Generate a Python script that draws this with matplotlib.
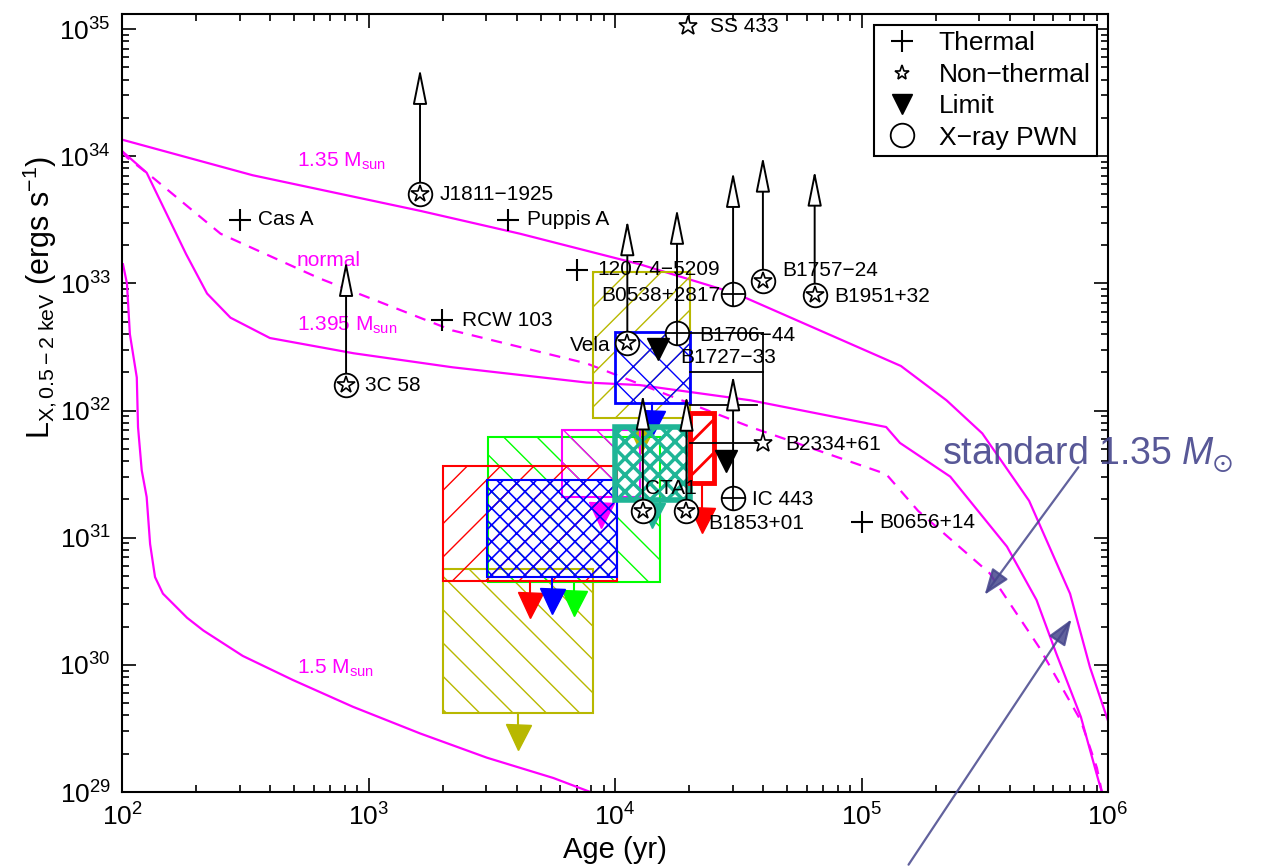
import numpy as np
import matplotlib
matplotlib.use('Agg')
import matplotlib.pyplot as plt
from matplotlib.lines import Line2D
from matplotlib.patches import FancyArrowPatch

plt.rcParams['font.family'] = ['Liberation Sans', 'DejaVu Sans']
plt.rcParams['mathtext.fontset'] = 'custom'
plt.rcParams['mathtext.rm'] = 'Liberation Sans'
plt.rcParams['mathtext.it'] = 'Liberation Sans:italic'
plt.rcParams['mathtext.sf'] = 'Liberation Sans'
plt.rcParams['mathtext.default'] = 'regular'

MAG = '#ff00ff'

# ---------------- cooling curves (log10 age [yr], log10 L [erg/s]) ----------------
c135_logt = [2.0, 2.53, 3.21, 3.615, 4.10, 4.49, 5.16, 5.345, 5.49, 5.68, 5.846, 5.927, 6.0]
c135_logL = [34.13, 33.85, 33.57, 33.39, 33.15, 32.92, 32.35, 32.08, 31.82, 31.29, 30.56, 29.98, 29.56]

c1395_logt = [2.0, 2.10, 2.18, 2.26, 2.345, 2.44, 2.60, 2.94, 3.34, 3.885, 4.10, 4.55, 5.10,
              5.156, 5.36, 5.59, 5.71, 5.79, 5.89, 5.96, 5.975]
c1395_logL = [34.04, 33.87, 33.55, 33.23, 32.92, 32.73, 32.57, 32.45, 32.34, 32.22, 32.20, 32.08, 31.87,
              31.745, 31.48, 30.93, 30.51, 30.09, 29.59, 29.10, 29.0]

normal_logt = [2.0, 2.02, 2.126, 2.40, 2.80, 3.34, 3.885, 4.55, 5.10, 5.23, 5.52, 5.72, 5.89, 5.955, 5.975]
normal_logL = [34.04, 33.99, 33.83, 33.39, 33.04, 32.63, 32.37, 31.87, 31.50, 31.21, 30.72, 30.14, 29.56, 29.19, 29.0]

c15_logt = [2.004, 2.02, 2.032, 2.06, 2.065, 2.08, 2.10, 2.114, 2.134, 2.166, 2.264, 2.33, 2.49,
            2.694, 2.937, 3.21, 3.48, 3.75, 3.90]
c15_logL = [33.15, 33.0, 32.60, 32.26, 31.87, 31.53, 31.32, 30.95, 30.69, 30.56, 30.37, 30.27, 30.07,
            29.88, 29.67, 29.46, 29.27, 29.11, 29.0]

curve_labels = [r'1.35 M$_{sun}$', 'normal', r'1.395 M$_{sun}$', r'1.5 M$_{sun}$']
curve_label_logt = [2.71, 2.71, 2.71, 2.71]
curve_label_logL = [33.96, 33.18, 32.67, 29.97]

# ---------------- sources ----------------
thermal_names = ['Cas A', 'Puppis A', 'RCW 103', '1207.4\u22125209', 'B0656+14']
thermal_logt = [2.48, 3.566, 3.30, 3.846, 5.0]
thermal_logL = [33.50, 33.50, 32.71, 33.105, 31.12]

tpwn_names = ['B0538+2817', 'B1706\u221244', 'IC 443']
tpwn_logt = [4.479, 4.2515, 4.479]
tpwn_logL = [32.92, 32.61, 31.31]

ntpwn_names = ['J1811\u22121925', '3C 58', 'Vela', 'B1757\u221224', 'B1951+32', 'CTA1', 'B1853+01']
ntpwn_logt = [3.209, 2.909, 4.05, 4.60, 4.81, 4.113, 4.29]
ntpwn_logL = [33.70, 32.20, 32.53, 33.02, 32.91, 31.21, 31.21]

nt_names = ['SS 433', 'B2334+61']
nt_logt = [4.296, 4.60]
nt_logL = [35.02, 31.745]

black_limit_logt = [4.174, 4.450]
black_limit_logL = [32.48, 31.60]

# lower limits (upward arrows): start point and length in dex
arrow_logt = [2.909, 3.209, 4.05, 4.2515, 4.479, 4.60, 4.81, 4.479, 4.113, 4.29]
arrow_logL = [32.20, 33.70, 32.53, 32.61, 32.92, 33.02, 32.91, 31.31, 31.21, 31.21]
arrow_len = [0.98, 0.99, 0.97, 0.98, 0.96, 0.98, 0.98, 0.97, 0.92, 0.91]

# age error bars (log t range, log L)
ebar_logt0 = [4.2515, 4.304, 4.304, 4.304]
ebar_logt1 = [4.600, 4.600, 4.576, 4.600]
ebar_logL = [32.61, 32.30, 32.04, 31.745]
vbar_logt = [4.600]
vbar_logL0 = [31.745]
vbar_logL1 = [32.61]

# ---------------- hatched boxes (log t range, log L range) ----------------
box_colors = ['#b8b800', '#0000ff', '#1fb596', '#ff00ff', '#00ff00', '#ff0000', '#0000ff', '#b8b800', '#ff0000']
box_hatch  = ['/', 'x', 'xx', '\\', '\\', '/', 'xx', '\\', '/']
box_t0 = [3.911, 4.0, 4.0, 3.785, 3.485, 3.302, 3.481, 3.302, 4.304]
box_t1 = [4.304, 4.304, 4.304, 4.10, 4.183, 4.008, 4.008, 3.911, 4.40]
box_L0 = [31.94, 32.06, 31.30, 31.32, 30.65, 30.66, 30.69, 29.62, 31.43]
box_L1 = [33.09, 32.62, 31.87, 31.85, 31.79, 31.56, 31.45, 30.755, 31.98]
box_tri_logL = [31.77, 31.90, 31.18, 31.18, 30.49, 30.47, 30.50, 29.43, 31.14]
box_lw = [1.5, 2.0, 4.0, 1.5, 1.5, 1.5, 1.5, 1.5, 3.5]
box_hlw = [1.0, 1.0, 2.5, 1.0, 1.0, 1.0, 1.2, 1.0, 2.0]
box_z = [3, 4, 5, 3.2, 3.1, 3.3, 3.4, 3.0, 5.5]

W, H = 1261, 867
fig = plt.figure(figsize=(W / 100, H / 100), dpi=100)
ax = fig.add_axes([122 / W, 1 - 792 / H, (1108 - 122) / W, (792 - 14) / H])
ax.set_xscale('log')
ax.set_yscale('log')
ax.set_xlim(1e2, 1e6)
ax.set_ylim(1e29, 10 ** 35.118)

p = lambda v: 10 ** np.asarray(v, dtype=float)

# curves
ax.plot(p(c135_logt), p(c135_logL), color=MAG, lw=1.6, zorder=2)
ax.plot(p(c1395_logt), p(c1395_logL), color=MAG, lw=1.6, zorder=2)
ax.plot(p(normal_logt), p(normal_logL), color=MAG, lw=1.6, ls=(0, (5, 4)), zorder=2)
ax.plot(p(c15_logt), p(c15_logL), color=MAG, lw=1.6, zorder=2)
for s, t, L in zip(curve_labels, curve_label_logt, curve_label_logL):
    ax.text(10 ** t, 10 ** L, s, color=MAG, fontsize=15, ha='left', va='center', zorder=2)

# boxes
for c, h, t0, t1, L0, L1, ty, lw, hlw, z in zip(box_colors, box_hatch, box_t0, box_t1, box_L0, box_L1,
                                               box_tri_logL, box_lw, box_hlw, box_z):
    with plt.rc_context({'hatch.linewidth': hlw}):
        ax.fill([10 ** t0, 10 ** t1, 10 ** t1, 10 ** t0], [10 ** L0, 10 ** L0, 10 ** L1, 10 ** L1],
                facecolor='none', edgecolor=c, hatch=h, lw=lw, zorder=z)
    tc = 10 ** ((t0 + t1) / 2)
    ax.plot([tc, tc], [10 ** L0, 10 ** ty], color=c, lw=1.5, zorder=z)
    ax.plot([tc], [10 ** ty], marker='v', ms=18, color=c, mec=c, ls='none', zorder=z + 0.05)

# error bars
for t0, t1, L in zip(ebar_logt0, ebar_logt1, ebar_logL):
    ax.plot([10 ** t0, 10 ** t1], [10 ** L, 10 ** L], color='k', lw=1.3, zorder=6)
for t, L0, L1 in zip(vbar_logt, vbar_logL0, vbar_logL1):
    ax.plot([10 ** t, 10 ** t], [10 ** L0, 10 ** L1], color='k', lw=1.3, zorder=6)

# arrows
for t, L, dl in zip(arrow_logt, arrow_logL, arrow_len):
    ax.annotate('', xy=(10 ** t, 10 ** (L + dl)), xytext=(10 ** t, 10 ** L),
                arrowprops=dict(arrowstyle='-|>,head_length=1.1,head_width=0.22', ec='k', fc='white',
                                lw=1.4, shrinkA=0, shrinkB=0, mutation_scale=20), zorder=7)

# markers
ax.plot(p(thermal_logt), p(thermal_logL), 'k+', ms=16, mew=1.5, ls='none', zorder=8)
ax.plot(p(tpwn_logt), p(tpwn_logL), marker='o', ms=17, mfc='white', mec='k', mew=1.3, ls='none', zorder=8)
ax.plot(p(tpwn_logt), p(tpwn_logL), 'k+', ms=17, mew=1.3, ls='none', zorder=8.1)
ax.plot(p(ntpwn_logt), p(ntpwn_logL), marker='o', ms=17, mfc='white', mec='k', mew=1.3, ls='none', zorder=8)
ax.plot(p(ntpwn_logt), p(ntpwn_logL), marker='*', ms=13, mfc='white', mec='k', mew=1.2, ls='none', zorder=8.1)
ax.plot(p(nt_logt), p(nt_logL), marker='*', ms=14, mfc='white', mec='k', mew=1.2, ls='none', zorder=8)
ax.plot(p(black_limit_logt), p(black_limit_logL), marker='v', ms=16, color='k', ls='none', zorder=8)

# labels
label_info = [
    ('SS 433', 4.296, 35.02, 22, 0, 'left'),
    ('J1811\u22121925', 3.209, 33.70, 20, 0, 'left'),
    ('Cas A', 2.48, 33.50, 18, 0, 'left'),
    ('Puppis A', 3.566, 33.50, 19, 0, 'left'),
    ('1207.4\u22125209', 3.846, 33.105, 20, 0, 'left'),
    ('B0538+2817', 4.479, 32.92, -13, -2, 'right'),
    ('B1757\u221224', 4.60, 33.02, 19, 10, 'left'),
    ('B1951+32', 4.81, 32.91, 20, -2, 'left'),
    ('RCW 103', 3.30, 32.71, 20, 0, 'left'),
    ('B1706\u221244', 4.2515, 32.61, 22, -3, 'left'),
    ('Vela', 4.05, 32.53, -17, -2, 'right'),
    ('B1727\u221233', 4.174, 32.48, 22, -8, 'left'),
    ('3C 58', 2.909, 32.20, 19, 0, 'left'),
    ('B2334+61', 4.60, 31.745, 22, -2, 'left'),
    ('CTA1', 4.113, 31.21, 2, 22, 'left'),
    ('IC 443', 4.479, 31.31, 19, -1, 'left'),
    ('B1853+01', 4.29, 31.21, 22, -13, 'left'),
    ('B0656+14', 5.0, 31.12, 18, 0, 'left'),
]
for name, t, L, dx, dy, ha in label_info:
    ax.annotate(name, xy=(10 ** t, 10 ** L), xytext=(dx, dy), textcoords='offset pixels',
                ha=ha, va='center', fontsize=15, zorder=9)

# axes styling
for sp in ax.spines.values():
    sp.set_linewidth(1.5)
ax.tick_params(which='both', direction='in', top=True, right=True, labelsize=19, width=1.2)
ax.tick_params(which='major', length=10, pad=8)
ax.tick_params(which='minor', length=5)
ax.set_xticks([1e2, 1e3, 1e4, 1e5, 1e6])
ax.set_yticks([1e29, 1e30, 1e31, 1e32, 1e33, 1e34, 1e35])
ax.set_xlabel('Age (yr)', fontsize=21, labelpad=4)
fig.text(40 / W, 1 - 297 / H, r'L$_{X,0.5-2\ keV}$ (ergs s$^{-1}$)', rotation=90,
         fontsize=22, ha='center', va='center')

# legend
handles = [
    Line2D([], [], marker='+', color='k', ms=16, mew=1.5, ls='none'),
    Line2D([], [], marker='*', mfc='white', mec='k', ms=11, mew=1.2, ls='none'),
    Line2D([], [], marker='v', color='k', ms=15, ls='none'),
    Line2D([], [], marker='o', mfc='white', mec='k', ms=17, mew=1.3, ls='none'),
]
leg = ax.legend(handles, ['Thermal', 'Non\u2212thermal', 'Limit', 'X\u2212ray PWN'], loc='upper right',
                bbox_to_anchor=(0.989, 0.986), borderaxespad=0, fontsize=19, frameon=True, fancybox=False,
                edgecolor='k', framealpha=1, handletextpad=0.6, labelspacing=0.28, borderpad=0.25,
                handlelength=1.6)
leg.get_frame().set_linewidth(1.5)
leg.set_zorder(20)

# overlaid annotation
BLUE = '#46468c'
fig.text(942 / W, 1 - 465 / H, r'standard 1.35 $\mathit{M}_{\odot}$', color=BLUE, fontsize=27,
         va='baseline', ha='left', alpha=0.9)
fig.add_artist(FancyArrowPatch((1080, H - 465), (983, H - 597),
               transform=None, arrowstyle='-|>,head_length=0.8,head_width=0.3', mutation_scale=20,
               color=BLUE, lw=1.6, alpha=0.85))
fig.add_artist(FancyArrowPatch((907, H - 867), (1073, H - 617),
               transform=None, arrowstyle='-|>,head_length=0.8,head_width=0.3', mutation_scale=20,
               color=BLUE, lw=1.6, alpha=0.85))

fig.savefig('out.png', dpi=100)
